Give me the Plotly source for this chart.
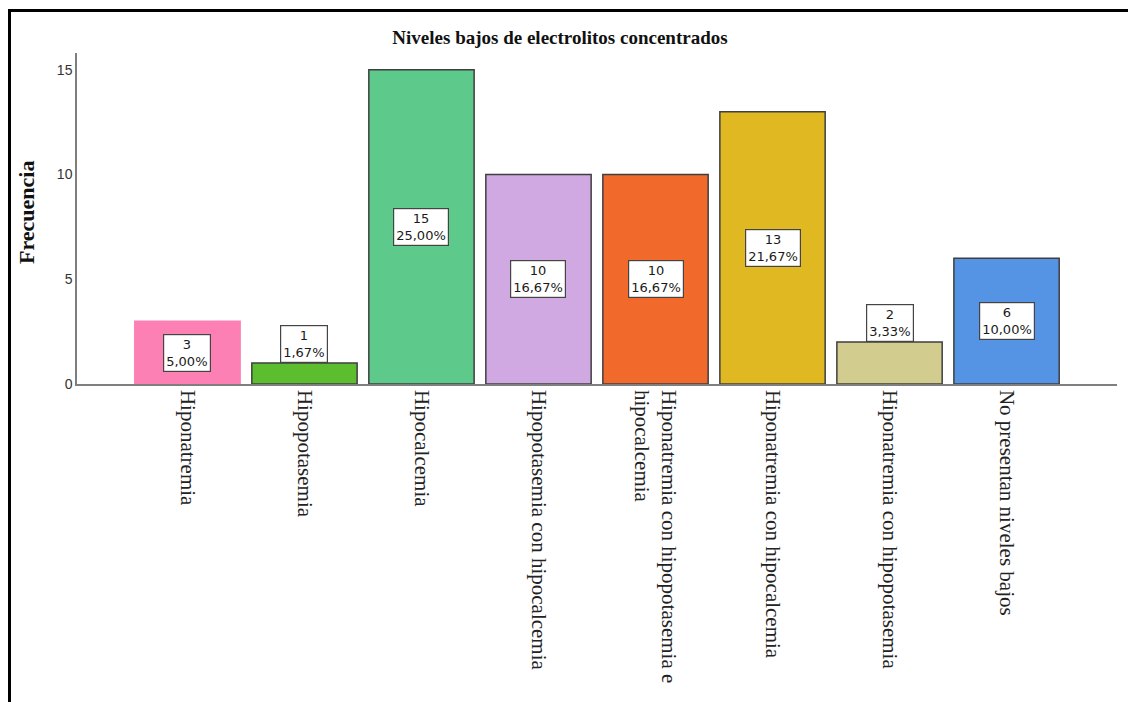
import plotly.graph_objects as go

# Frequencies of low concentrated electrolyte levels
categories = [
    "Hiponatremia",
    "Hipopotasemia",
    "Hipocalcemia",
    "Hipopotasemia con hipocalcemia",
    "Hiponatremia con hipopotasemia e<br>hipocalcemia",
    "Hiponatremia con hipocalcemia",
    "Hiponatremia con hipopotasemia",
    "No presentan niveles bajos",
]
counts = [3, 1, 15, 10, 10, 13, 2, 6]
bar_colors = ["#FD80B4", "#5CBE2F", "#5DC98A", "#D0A9E3",
              "#F2692C", "#E0B821", "#D2CC8F", "#5594E4"]
outline_colors = ["#FD80B4", "#3F3F3F", "#3F3F3F", "#3F3F3F",
                  "#3F3F3F", "#3F3F3F", "#3F3F3F", "#3F3F3F"]
y_ticks = [0, 5, 10, 15]

W, H = 1128, 702
L, R, T, B = 77, 11, 53, 318          # plot area: x 77..1117, y 53..384
plot_w = W - L - R
plot_h = H - T - B
y_max = 15.8
x_range = [-0.944, 7.944]
inside_min = 2.5                      # bars shorter than this get the label on top

total = sum(counts)
xs = list(range(len(categories)))

fig = go.Figure()
fig.add_trace(go.Bar(
    x=xs, y=counts, width=0.9,
    marker=dict(color=bar_colors, line=dict(color=outline_colors, width=1.5)),
    hoverinfo="skip",
))

annotations = []
for x, c in zip(xs, counts):
    pct = f"{100 * c / total:.2f}".replace(".", ",") + "%"
    inside = c >= inside_min
    annotations.append(dict(
        x=x, y=c / 2 if inside else c, xref="x", yref="y",
        text=f"{c}<br>{pct}", showarrow=False, align="center",
        yanchor="middle" if inside else "bottom",
        font=dict(family="DejaVu Sans", size=13, color="#1A1A1A"),
        bgcolor="white", bordercolor="#444444", borderwidth=1.2, borderpad=2,
    ))

# y-axis title
annotations.append(dict(
    x=(26 - L) / plot_w, y=(H - B - 213) / plot_h, xref="paper", yref="paper",
    text="<b>Frecuencia</b>", textangle=-90, showarrow=False,
    font=dict(family="Liberation Serif", size=22, color="#111111"),
    xanchor="center", yanchor="middle",
))

# outer frame (top and left edges)
def px_x(p):
    return (p - L) / plot_w

def px_y(p):
    return (H - B - p) / plot_h

frame_path = (f"M {px_x(9.5)} {px_y(H)} L {px_x(9.5)} {px_y(10.5)} "
              f"L {px_x(W)} {px_y(10.5)}")

fig.update_layout(
    width=W, height=H,
    margin=dict(l=L, r=R, t=T, b=B),
    paper_bgcolor="white", plot_bgcolor="white",
    showlegend=False,
    title=dict(
        text="<b>Niveles bajos de electrolitos concentrados</b>",
        x=560 / W, y=1 - 37 / H, xref="container", yref="container",
        xanchor="center", yanchor="middle",
        font=dict(family="Liberation Serif", size=19, color="#111111"),
    ),
    annotations=annotations,
    shapes=[dict(type="path", path=frame_path, xref="paper", yref="paper",
                 line=dict(color="black", width=3))],
    xaxis=dict(
        range=x_range, tickmode="array", tickvals=xs, ticktext=categories,
        tickangle=90, showline=True, linecolor="#7F7F7F", linewidth=1.5,
        showgrid=False, zeroline=False, ticks="", automargin=False,
        tickfont=dict(family="Liberation Serif", size=21, color="#222222"),
    ),
    yaxis=dict(
        range=[0, y_max], tickmode="array", tickvals=y_ticks,
        showline=True, linecolor="#7F7F7F", linewidth=1.5,
        showgrid=False, zeroline=False, ticks="", automargin=False,
        tickfont=dict(family="Liberation Sans", size=14, color="#333333"),
    ),
)

fig.write_html("out.html")
